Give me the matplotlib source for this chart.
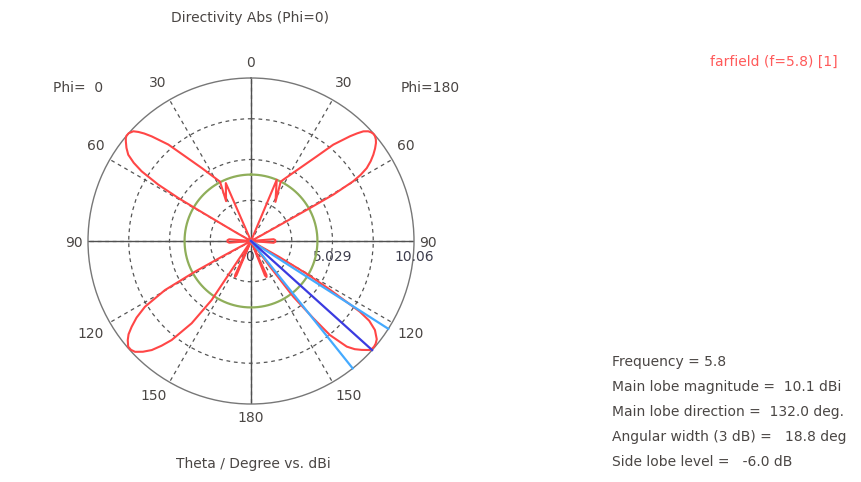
import numpy as np
import matplotlib
matplotlib.use("Agg")
import matplotlib.pyplot as plt

plt.rcParams["font.family"] = ["DejaVu Sans"]
plt.rcParams["font.size"] = 10

# farfield summary (f=5.8)
FREQ = 5.8
MAIN_MAG = 10.1      # dBi
MAIN_DIR = 132.0     # deg
ANG_WIDTH = 18.8     # deg, 3 dB
SIDE_LOBE = -6.0     # dB
R_MAX = 10.06
R_LABELS = ["0", "5.029", "10.06"]

THETA_TICKS = [0, 30, 60, 90, 120, 150, 180]

# Phi=180 cut (right half), theta in deg, directivity in dBi (clipped at 0)
theta_180 = [0, 20, 22.8, 32, 26.6, 27.8, 33.9, 37.8, 40.5, 43.4, 44.6, 45.7, 46.9, 47.9,
             48.8, 49.8, 50.9, 51.9, 53.3, 54.8, 56.3, 57.8, 58.9, 59.7, 60.6, 60.8, 61.0,
             61.5, 62, 84, 85.5, 88, 92, 94.5, 96,
             118, 119.5, 120.5, 121.5, 122.5, 123, 124, 125.7, 128, 129.5, 130.7, 131.6,
             132.5, 134.5, 136.2, 137.8, 140, 141.1, 142.8, 143.5, 145,
             154, 155.5, 156.7, 158, 159.5, 180]
dbi_180 = [0, 0, 4.1, 2.85, 4.1, 4.28, 5.43, 6.6, 7.82, 8.9, 9.33, 9.69, 9.91, 10.0,
           10.04, 10.02, 9.93, 9.8, 9.55, 9.24, 8.88, 8.44, 7.9, 7.31, 5.83, 4.17, 2.3,
           0.7, 0, 0, 1.4, 1.5, 1.5, 1.4, 0,
           0, 2.0, 4.0, 5.5, 7.0, 8.0, 8.8, 9.42, 9.85, 9.97, 10.01, 10.0,
           9.96, 9.59, 9.25, 8.8, 7.58, 6.13, 4.32, 1.97, 0,
           0, 2.3, 2.42, 2.3, 0, 0]

# Phi=0 cut (left half)
theta_0 = [0, 20, 23.5, 32, 27.6, 29.7, 34.0, 37.9, 40.6, 43.5, 44.8, 45.9, 47.0, 48.6,
           49.8, 50.6, 51.5, 53.2, 54.9, 56.3, 57.5, 58.7, 59.4, 59.6, 59.8, 60.5, 61.5,
           84, 85.5, 88, 92, 94.5, 96,
           117, 118.3, 118.7, 119.7, 121.8, 123.8, 125.7, 127.3, 128.8, 130.7, 132.2,
           133.7, 135.7, 137.7, 139.5, 141.3, 144.2, 146.3, 146.3, 146.2, 147.5,
           154, 155, 156, 157, 158.5, 180]
dbi_0 = [0, 0, 3.9, 2.9, 4.13, 4.48, 5.43, 6.63, 7.84, 8.9, 9.35, 9.67, 9.93, 10.06,
         10.06, 10.0, 9.87, 9.6, 9.26, 8.7, 8.0, 6.7, 5.2, 3.8, 2.4, 1.0, 0,
         0, 1.35, 1.45, 1.45, 1.35, 0,
         0, 2.0, 3.94, 6.11, 7.7, 8.5, 9.07, 9.5, 9.76, 10.0, 10.0,
         9.9, 9.55, 9.1, 8.5, 7.83, 6.26, 4.38, 2.89, 1.41, 0,
         0, 2.3, 2.43, 2.3, 0, 0]

TXT = "#4a4644"
GRID = "#555555"

W, H = 862, 482
fig = plt.figure(figsize=(W / 100, H / 100), dpi=100)

cx, cy, rad = 251, 241, 163
ax = fig.add_axes([(cx - rad) / W, (H - cy - rad) / H, 2 * rad / W, 2 * rad / H],
                  projection="polar")
ax.set_theta_zero_location("N")
ax.set_theta_direction(-1)
ax.set_ylim(0, R_MAX)
ax.patch.set_alpha(0)
ax.spines["polar"].set_color("#777777")
ax.spines["polar"].set_linewidth(1.0)

# theta ticks (labels placed by hand below, CST puts them a bit off the spoke)
ang = THETA_TICKS + [360 - t for t in THETA_TICKS[1:-1][::-1]]
ax.set_xticks(np.radians(ang))
ax.set_xticklabels([])
ax.tick_params(axis="x", direction="in", length=4, color=GRID)
ax.set_yticks([R_MAX / 4, R_MAX / 2, 3 * R_MAX / 4])
ax.set_yticklabels([])
ax.tick_params(axis="y", length=0)
ax.grid(True, color=GRID, ls=(0, (3, 3)), lw=0.9)

# label radius (px from centre) and angle nudge per tick
lab_pos = {0: (178, 0), 30: (183, 0.5), 60: (182, -1.6), 90: (177, 0.6),
           120: (185, 0.2), 150: (183, -2.2), 180: (177, 0)}
for t in THETA_TICKS:
    rp, nudge = lab_pos[t]
    sides = [1] if t in (0, 180) else [1, -1]
    for sgn in sides:
        ax.text(sgn * np.radians(t + nudge), rp / rad * R_MAX, str(t), color=TXT,
                ha="center", va="center", clip_on=False)

# solid cross axes
for a in [0, 90, 180, 270]:
    ax.plot([np.radians(a)] * 2, [0, R_MAX], color="#505050", lw=1.0, zorder=2)

# radial value labels along theta=90 (right)
for r, s in zip([0, R_MAX / 2, R_MAX], R_LABELS):
    ax.annotate(s, xy=(np.pi / 2, r), xytext=(-1 if r == 0 else 0, -11.5),
                textcoords="offset points", ha="center", va="center", color="#3d3d4d",
                fontsize=10, annotation_clip=False)

# side lobe level circle
circ = np.linspace(0, 2 * np.pi, 361)
ax.plot(circ, np.full_like(circ, MAIN_MAG + SIDE_LOBE), color="#8fae5a", lw=1.6, zorder=3)

# pattern
red = "#ff4646"
ax.plot(np.radians(theta_180), dbi_180, color=red, lw=1.5, zorder=4, clip_on=False)
ax.plot(-np.radians(theta_0), dbi_0, color=red, lw=1.5, zorder=4, clip_on=False)

# main lobe direction and 3 dB width
for a, c in [(MAIN_DIR - ANG_WIDTH / 2, "#44aaff"), (MAIN_DIR + ANG_WIDTH / 2, "#44aaff"),
             (MAIN_DIR, "#3b3be0")]:
    ax.plot([np.radians(a)] * 2, [0, R_MAX], color=c, lw=1.6, zorder=5, clip_on=False)

def ftext(x, y, s, **kw):
    kw.setdefault("color", TXT)
    fig.text(x / W, 1 - y / H, s, va="center", **kw)

ftext(250, 18, "Directivity Abs (Phi=0)", ha="center")
ftext(78, 88, "Phi=  0", ha="center")
ftext(430, 88, "Phi=180", ha="center")
ftext(253, 464, "Theta / Degree vs. dBi", ha="center")
ftext(838, 62, "farfield (f=5.8) [1]", ha="right", color="#ff5a5a")

info = [f"Frequency = {FREQ}",
        f"Main lobe magnitude =  {MAIN_MAG} dBi",
        f"Main lobe direction =  {MAIN_DIR:.1f} deg.",
        f"Angular width (3 dB) =   {ANG_WIDTH} deg",
        f"Side lobe level =   {SIDE_LOBE:.1f} dB"]
for i, s in enumerate(info):
    ftext(612, 362 + 25 * i, s, ha="left")

fig.savefig("out.png", dpi=100)
